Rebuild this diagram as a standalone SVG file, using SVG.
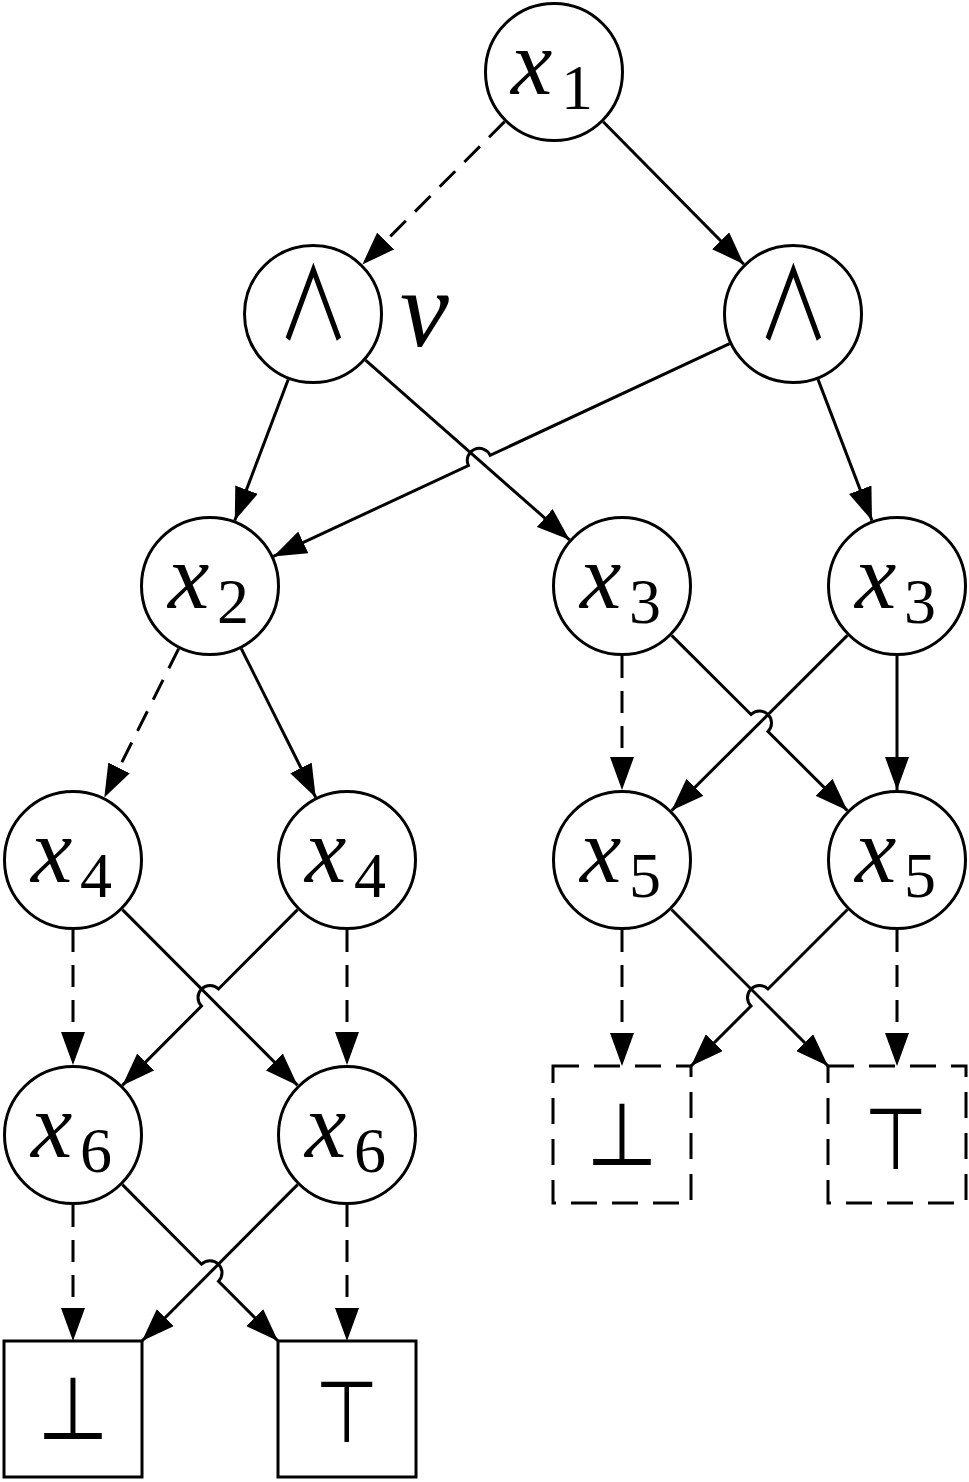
<svg xmlns="http://www.w3.org/2000/svg" width="969" height="1482" viewBox="0 0 969 1482">
<style>
.node circle{fill:#fff;stroke:#000;stroke-width:3}
.box rect{fill:#fff;stroke:#000;stroke-width:3}
.dbox rect{fill:#fff;stroke:#000;stroke-width:3;stroke-dasharray:26 15}
.e{fill:none;stroke:#000;stroke-width:3;marker-end:url(#ah)}
.d{stroke-dasharray:22 13}
.v{font-family:'Liberation Serif','Times New Roman',serif;font-style:italic;font-size:93px}
.s{font-family:'Liberation Serif','Times New Roman',serif;font-size:64px}
.and{font-family:'Noto Sans CJK SC',sans-serif;font-size:78px;text-anchor:middle}
.tk{font-family:'Noto Sans CJK SC',sans-serif;font-size:73px;text-anchor:middle}
</style>
<defs>
<marker id="ah" viewBox="0 0 33 24" refX="33" refY="12" markerWidth="33" markerHeight="24" markerUnits="userSpaceOnUse" orient="auto">
<path d="M0,0 L33,12 L0,24 z" fill="#000"/>
</marker>
</defs>
<g id="connectors">
<path class="e d" d="M504.6,121.6 L362.4,264.4"/>
<path class="e" d="M603.2,121.8 L743.8,264.2"/>
<path class="e" d="M288.2,379.5 L234.8,520.5"/>
<path class="e" d="M365.5,360.2 L569.5,539.8"/>
<path class="e" d="M729.6,343.6 L490.2,455.3 A12,12 0 0 0 468.4,465.5 L273.4,556.4"/>
<path class="e" d="M818.0,379.4 L872.0,520.6"/>
<path class="e d" d="M178.7,648.6 L104.3,797.4"/>
<path class="e" d="M241.3,648.6 L315.7,797.4"/>
<path class="e d" d="M622,656 L622,790"/>
<path class="e" d="M671.6,635.4 L751.0,714.5 A12,12 0 0 1 768.0,731.5 L847.4,810.6"/>
<path class="e" d="M847.4,635.4 L671.6,810.6"/>
<path class="e" d="M897,656 L897,790"/>
<path class="e d" d="M73,930 L73,1065"/>
<path class="e" d="M122.4,909.6 L297.6,1085.4"/>
<path class="e" d="M297.6,909.6 L218.5,989.0 A12,12 0 0 0 201.5,1006.0 L122.4,1085.4"/>
<path class="e d" d="M347,930 L347,1065"/>
<path class="e d" d="M622,930 L622,1066"/>
<path class="e" d="M671.5,909.5 L828,1066"/>
<path class="e" d="M847.5,909.5 L768.0,989.0 A12,12 0 0 0 751.0,1006.0 L691,1066"/>
<path class="e d" d="M897,930 L897,1066"/>
<path class="e d" d="M73,1205 L73,1341"/>
<path class="e" d="M122.4,1184.6 L201.5,1264.2 A12,12 0 0 1 218.5,1281.2 L278,1341"/>
<path class="e" d="M297.6,1184.6 L142,1341"/>
<path class="e d" d="M347,1205 L347,1341"/>
</g>
<g id="n_x1" class="node"><circle cx="554" cy="72" r="68.5"/><text class="v" x="511" y="94">x</text><text class="s" x="561" y="109">1</text></g>
<g id="n_andL" class="node"><circle cx="313" cy="314" r="68.5"/><text class="and" transform="translate(313.5,302) scale(0.92,1.28)" x="0" y="30">∧</text></g>
<g id="n_andR" class="node"><circle cx="793" cy="314" r="68.5"/><text class="and" transform="translate(793.5,302) scale(0.92,1.28)" x="0" y="30">∧</text></g>
<g id="n_x2" class="node"><circle cx="210" cy="586" r="68.5"/><text class="v" x="168" y="608">x</text><text class="s" x="217" y="623">2</text></g>
<g id="n_x3a" class="node"><circle cx="622" cy="586" r="68.5"/><text class="v" x="580" y="608">x</text><text class="s" x="629" y="623">3</text></g>
<g id="n_x3b" class="node"><circle cx="897" cy="586" r="68.5"/><text class="v" x="855" y="608">x</text><text class="s" x="904" y="623">3</text></g>
<g id="n_x4a" class="node"><circle cx="73" cy="860" r="68.5"/><text class="v" x="31" y="882">x</text><text class="s" x="80" y="897">4</text></g>
<g id="n_x4b" class="node"><circle cx="347" cy="860" r="68.5"/><text class="v" x="305" y="882">x</text><text class="s" x="354" y="897">4</text></g>
<g id="n_x5a" class="node"><circle cx="622" cy="860" r="68.5"/><text class="v" x="580" y="882">x</text><text class="s" x="629" y="897">5</text></g>
<g id="n_x5b" class="node"><circle cx="897" cy="860" r="68.5"/><text class="v" x="855" y="882">x</text><text class="s" x="904" y="897">5</text></g>
<g id="n_x6a" class="node"><circle cx="73" cy="1135" r="68.5"/><text class="v" x="31" y="1157">x</text><text class="s" x="80" y="1172">6</text></g>
<g id="n_x6b" class="node"><circle cx="347" cy="1135" r="68.5"/><text class="v" x="305" y="1157">x</text><text class="s" x="354" y="1172">6</text></g>
<g id="n_botA" class="box"><rect x="4" y="1341" width="138" height="136"/><text class="tk" transform="translate(73,1410) scale(1,1.18)" x="0" y="27">⊥</text></g>
<g id="n_topA" class="box"><rect x="278" y="1341" width="138" height="136"/><text class="tk" transform="translate(347,1410) scale(1,1.18)" x="0" y="27">⊤</text></g>
<g id="n_botB" class="dbox"><rect x="553" y="1066" width="138" height="137"/><text class="tk" transform="translate(622,1136) scale(1,1.18)" x="0" y="27">⊥</text></g>
<g id="n_topB" class="dbox"><rect x="828" y="1066" width="138" height="137"/><text class="tk" transform="translate(896,1137) scale(1,1.18)" x="0" y="27">⊤</text></g>
<g id="label_v"><text class="v" x="400" y="346" style="font-size:110px">ν</text></g>
</svg>
